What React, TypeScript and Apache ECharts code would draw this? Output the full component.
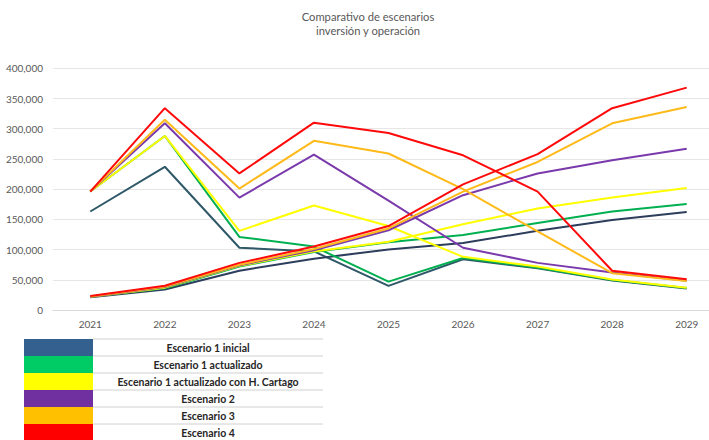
import React, { useEffect, useRef } from "react";
import * as echarts from "echarts";

const years = ["2021", "2022", "2023", "2024", "2025", "2026", "2027", "2028", "2029"];

const scenarioNames = [
  "Escenario 1 inicial",
  "Escenario 1 actualizado",
  "Escenario 1 actualizado con H. Cartago",
  "Escenario 2",
  "Escenario 3",
  "Escenario 4",
];

// Inversión (curvas descendentes)
const inv1Inicial = [163000, 237000, 103000, 97000, 40000, 84000, 69000, 49000, 35500];
const inv1Actualizado = [196000, 288000, 121000, 105000, 47000, 86000, 70000, 49500, 36500];
const inv1Cartago = [196000, 288000, 131000, 173000, 139000, 88000, 72000, 50500, 37000];
const inv2 = [196000, 309000, 186000, 257000, 181000, 103000, 78000, 62000, 48500];
const inv3 = [196000, 315000, 201000, 280000, 259000, 200000, 130000, 61000, 48000];
const inv4 = [196000, 334000, 226000, 310000, 293000, 256000, 196000, 65000, 51000];

// Operación (curvas ascendentes)
const op1Inicial = [21000, 34000, 65000, 85000, 100000, 111000, 131000, 149000, 162000];
const op1Actualizado = [22000, 36000, 72000, 96000, 112000, 124000, 144000, 163000, 175500];
const op1Cartago = [22000, 37000, 73000, 97000, 113000, 142000, 168000, 186000, 202000];
const op2 = [22000, 38000, 74000, 99000, 132000, 190000, 226000, 248000, 267000];
const op3 = [22500, 39000, 75000, 101000, 135000, 196000, 245000, 309000, 336000];
const op4 = [23000, 40000, 78000, 105000, 139000, 208000, 258000, 334000, 368000];

const invSeries = [inv1Inicial, inv1Actualizado, inv1Cartago, inv2, inv3, inv4];
const opSeries = [op1Inicial, op1Actualizado, op1Cartago, op2, op3, op4];

const yTicks = { min: 0, max: 400000, interval: 50000 };

const invColors = ["#2F5868", "#00B050", "#FFFF00", "#7B3AAC", "#FFBA1A", "#FF0A0A"];
const opColors = ["#2C3E5C", "#00B050", "#FFFF00", "#7B3AAC", "#FFBA1A", "#FF0A0A"];
const legendColors = ["#34608F", "#00CC66", "#FFFF00", "#7030A0", "#FFC000", "#FF0000"];

const FONT = "Lato, 'Liberation Sans', sans-serif";

export default function App() {
  const ref = useRef<HTMLDivElement>(null);

  useEffect(() => {
    if (!ref.current) return;
    const chart = echarts.init(ref.current, undefined, { renderer: "svg" });

    const series: any[] = [];
    scenarioNames.forEach((name, i) => {
      series.push({
        name: name + " inversión",
        type: "line",
        data: invSeries[i],
        symbol: "none",
        lineStyle: { width: 2, color: invColors[i] },
        itemStyle: { color: invColors[i] },
        z: 2 + i,
      });
      series.push({
        name: name + " operación",
        type: "line",
        data: opSeries[i],
        symbol: "none",
        lineStyle: { width: 2, color: opColors[i] },
        itemStyle: { color: opColors[i] },
        z: 2 + i,
      });
    });

    const rowTop = 339;
    const rowH = 17;
    const legendGraphics: any[] = [];
    legendGraphics.push({
      type: "line",
      shape: { x1: 93, y1: rowTop, x2: 323, y2: rowTop },
      style: { stroke: "#D0D0D0", lineWidth: 1 },
    });
    scenarioNames.forEach((name, i) => {
      const y = rowTop + rowH * i;
      legendGraphics.push({
        type: "rect",
        shape: { x: 24, y: y, width: 69, height: rowH },
        style: { fill: legendColors[i] },
      });
      legendGraphics.push({
        type: "line",
        shape: { x1: 93, y1: y + rowH, x2: 323, y2: y + rowH },
        style: { stroke: "#D0D0D0", lineWidth: 1 },
      });
      legendGraphics.push({
        type: "text",
        x: 208,
        y: y + rowH / 2 + 0.5,
        style: {
          text: name,
          textAlign: "center",
          textVerticalAlign: "middle",
          fontFamily: FONT,
          fontWeight: "bold",
          fontSize: 10.5,
          fill: "#262626",
        },
      });
    });

    chart.setOption({
      animation: false,
      backgroundColor: "#ffffff",
      grid: { left: 53, top: 68.3, width: 671, height: 241.7, containLabel: false },
      xAxis: {
        type: "category",
        data: years,
        boundaryGap: true,
        axisLine: { lineStyle: { color: "#D9D9D9", width: 1 } },
        axisTick: { show: false },
        axisLabel: { color: "#595959", fontSize: 10, fontFamily: FONT, margin: 9 },
      },
      yAxis: {
        type: "value",
        min: yTicks.min,
        max: yTicks.max,
        interval: yTicks.interval,
        axisLine: { show: false },
        axisTick: { show: false },
        splitLine: { lineStyle: { color: "#E6E6E6", width: 1 } },
        axisLabel: {
          color: "#595959",
          fontSize: 10,
          fontFamily: FONT,
          margin: 10,
          formatter: (v: number) => v.toLocaleString("en-US"),
        },
      },
      series,
      graphic: [
        {
          type: "text",
          x: 368,
          y: 16,
          style: {
            text: "Comparativo de escenarios",
            textAlign: "center",
            textVerticalAlign: "middle",
            fontFamily: FONT,
            fontSize: 11.2,
            fill: "#595959",
          },
        },
        {
          type: "text",
          x: 368,
          y: 30,
          style: {
            text: "inversión y operación",
            textAlign: "center",
            textVerticalAlign: "middle",
            fontFamily: FONT,
            fontSize: 11.2,
            fill: "#595959",
          },
        },
        ...legendGraphics,
      ],
    });

    return () => chart.dispose();
  }, []);

  return (
    <div style={{ position: "fixed", left: 0, top: 0, width: 709, height: 440, overflow: "hidden", background: "#fff" }}>
      <div ref={ref} style={{ position: "absolute", left: 0, top: 0, width: 740, height: 440 }} />
    </div>
  );
}
